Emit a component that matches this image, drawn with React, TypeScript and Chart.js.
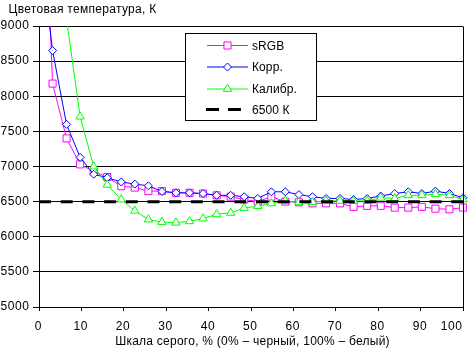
import React, { useEffect, useRef } from 'react';
import { Chart, registerables } from 'chart.js';

Chart.register(...registerables);

// ---- data ----
const grayPercent = [0, 3.2, 6.5, 9.7, 12.9, 16.1, 19.4, 22.6, 25.8, 29.0, 32.3, 35.5, 38.7, 41.9, 45.2, 48.4, 51.6, 54.8, 58.1, 61.3, 64.5, 67.7, 71.0, 74.2, 77.4, 80.6, 83.9, 87.1, 90.3, 93.5, 96.8, 100];
const srgbK = [13000, 8180, 7400, 7030, 6930, 6850, 6720, 6700, 6650, 6650, 6625, 6625, 6615, 6590, 6570, 6530, 6500, 6570, 6500, 6490, 6475, 6475, 6475, 6425, 6440, 6440, 6415, 6415, 6425, 6400, 6390, 6415];
const corrK = [10250, 8650, 7600, 7130, 6890, 6840, 6780, 6750, 6725, 6645, 6625, 6625, 6615, 6590, 6590, 6570, 6545, 6640, 6640, 6600, 6570, 6545, 6545, 6530, 6545, 6580, 6615, 6640, 6615, 6650, 6615, 6555];
const calibK = [16000, 12000, 9100, 7710, 7000, 6740, 6530, 6370, 6245, 6210, 6200, 6220, 6260, 6320, 6340, 6410, 6435, 6475, 6510, 6490, 6495, 6510, 6510, 6510, 6510, 6555, 6545, 6590, 6590, 6605, 6590, 6530];
const refX = [0, 100];
const refK = [6500, 6500];
const seriesLabels = ['sRGB', 'Корр.', 'Калибр.', '6500 К'];
const xTicks = [0, 10, 20, 30, 40, 50, 60, 70, 80, 90, 100];
const yTicks = [5000, 5500, 6000, 6500, 7000, 7500, 8000, 8500, 9000];
const yMin = 5000;
const yMax = 9000;
const yStep = 500;
const chartTitle = 'Цветовая температура, К';
const xTitle = 'Шкала серого, % (0% – черный, 100% – белый)';

const FONT = '"Liberation Sans", Arial, sans-serif';

const toXY = (xs: number[], ys: number[]) => xs.map((x, i) => ({ x, y: ys[i] }));

function drawMarker(ctx: CanvasRenderingContext2D, style: string, x: number, y: number, r: number) {
  ctx.beginPath();
  if (style === 'rect') {
    const s = Math.SQRT1_2 * r;
    ctx.rect(x - s, y - s, 2 * s, 2 * s);
  } else if (style === 'rectRot') {
    ctx.moveTo(x - r, y);
    ctx.lineTo(x, y - r);
    ctx.lineTo(x + r, y);
    ctx.lineTo(x, y + r);
    ctx.closePath();
  } else if (style === 'triangle') {
    let rad = 0;
    ctx.moveTo(x + Math.sin(rad) * r, y - Math.cos(rad) * r);
    rad += (2 * Math.PI) / 3;
    ctx.lineTo(x + Math.sin(rad) * r, y - Math.cos(rad) * r);
    rad += (2 * Math.PI) / 3;
    ctx.lineTo(x + Math.sin(rad) * r, y - Math.cos(rad) * r);
    ctx.closePath();
  }
  ctx.fill();
  ctx.stroke();
}

function setSpacing(ctx: any, px: number) {
  if ('letterSpacing' in ctx) ctx.letterSpacing = `${px}px`;
}

const decorPlugin = {
  id: 'decor',
  afterDraw(chart: any) {
    const { ctx, chartArea } = chart;
    const xs = chart.scales.x;
    const ys = chart.scales.y;
    ctx.save();
    // right border
    const rx = Math.round(xs.getPixelForValue(100) - 0.5) + 0.5;
    ctx.strokeStyle = '#000';
    ctx.lineWidth = 1;
    ctx.beginPath();
    ctx.moveTo(rx, Math.round(chartArea.top - 0.5) + 0.5);
    ctx.lineTo(rx, Math.round(chartArea.bottom - 0.5) + 0.5);
    ctx.stroke();

    ctx.font = `12px ${FONT}`;
    ctx.fillStyle = '#000';

    // y tick labels
    setSpacing(ctx, 0.6);
    ctx.textAlign = 'right';
    ctx.textBaseline = 'middle';
    yTicks.forEach((v) => {
      ctx.fillText(String(v), chartArea.left - 9.4, ys.getPixelForValue(v));
    });

    // x tick labels
    ctx.textBaseline = 'alphabetic';
    xTicks.forEach((v, i) => {
      const px = xs.getPixelForValue(v);
      if (i === xTicks.length - 1) {
        ctx.textAlign = 'right';
        ctx.fillText(String(v), chartArea.right - 0.4, chartArea.bottom + 22.5);
      } else {
        ctx.textAlign = 'center';
        ctx.fillText(String(v), px - 0.7, chartArea.bottom + 22.5);
      }
    });

    // x axis title
    setSpacing(ctx, 0.25);
    ctx.textAlign = 'center';
    ctx.fillText(xTitle, (chartArea.left + chartArea.right) / 2 + 1.5, chartArea.bottom + 37.5);

    // chart title
    setSpacing(ctx, 0.3);
    ctx.textAlign = 'left';
    ctx.fillText(chartTitle, 8.5, 12.5);

    // legend
    setSpacing(ctx, 0.1);
    const bx = 185.5, by = 33.5, bw = 131, bh = 87;
    ctx.fillStyle = '#fff';
    ctx.fillRect(bx, by, bw, bh);
    ctx.strokeStyle = '#000';
    ctx.lineWidth = 1;
    ctx.strokeRect(bx, by, bw, bh);
    const rowsY = [45, 66.5, 88.5, 109];
    chart.data.datasets.forEach((ds: any, i: number) => {
      const y = rowsY[i];
      ctx.save();
      ctx.strokeStyle = ds.borderColor;
      ctx.lineWidth = ds.borderWidth;
      if (ds.borderDash) ctx.setLineDash(ds.borderDash);
      ctx.beginPath();
      if (ds.borderDash) {
        ctx.setLineDash([13, 9]);
        ctx.moveTo(206, y + 0.5);
        ctx.lineTo(242, y + 0.5);
      } else {
        ctx.moveTo(207, y + 0.5);
        ctx.lineTo(248, y + 0.5);
      }
      ctx.stroke();
      ctx.setLineDash([]);
      if (ds.pointRadius > 0) {
        ctx.lineWidth = 1;
        ctx.strokeStyle = ds.pointBorderColor;
        ctx.fillStyle = '#fff';
        drawMarker(ctx, ds.pointStyle, 227.5, y + 0.5, ds.pointRadius);
      }
      ctx.restore();
      ctx.fillStyle = '#000';
      ctx.textAlign = 'left';
      ctx.textBaseline = 'alphabetic';
      ctx.font = `12px ${FONT}`;
      ctx.fillText(ds.label, 252, y + 4.5);
    });
    ctx.restore();
  },
};

export default function App() {
  const ref = useRef<HTMLCanvasElement>(null);
  useEffect(() => {
    if (!ref.current) return;
    const clip = { left: 0, top: 0, right: 8, bottom: 0 };
    const chart = new Chart(ref.current, {
      type: 'line',
      data: {
        datasets: [
          {
            label: seriesLabels[0],
            data: toXY(grayPercent, srgbK),
            borderColor: '#ff00ff',
            pointBorderColor: '#ff00ff',
            pointBackgroundColor: '#ffffff',
            borderWidth: 1,
            pointStyle: 'rect',
            pointRadius: 5,
            pointBorderWidth: 1,
            tension: 0,
            order: 3,
            clip,
          },
          {
            label: seriesLabels[1],
            data: toXY(grayPercent, corrK),
            borderColor: '#0000ff',
            pointBorderColor: '#0000ff',
            pointBackgroundColor: '#ffffff',
            borderWidth: 1,
            pointStyle: 'rectRot',
            pointRadius: 4,
            pointBorderWidth: 1,
            tension: 0,
            order: 2,
            clip,
          },
          {
            label: seriesLabels[2],
            data: toXY(grayPercent, calibK),
            borderColor: '#00ff00',
            pointBorderColor: '#00ff00',
            pointBackgroundColor: '#ffffff',
            borderWidth: 1,
            pointStyle: 'triangle',
            pointRadius: 4.8,
            pointBorderWidth: 1,
            tension: 0,
            order: 1,
            clip,
          },
          {
            label: seriesLabels[3],
            data: toXY(refX, refK),
            borderColor: '#000000',
            borderWidth: 3,
            borderDash: [12, 9.7],
            borderCapStyle: 'butt',
            pointRadius: 0,
            tension: 0,
            order: 0,
            clip,
          },
        ] as any,
      },
      options: {
        animation: false,
        responsive: false,
        devicePixelRatio: 1,
        layout: { padding: { top: 26, right: 10, bottom: 0, left: 0 } },
        plugins: {
          legend: { display: false },
          title: { display: false },
          tooltip: { enabled: false },
        },
        scales: {
          x: {
            type: 'linear',
            min: 0,
            max: 100,
            ticks: { display: false, stepSize: 10 },
            grid: { drawOnChartArea: false, drawTicks: true, tickLength: 4, color: '#000' },
            border: { display: true, color: '#000', width: 1 },
            afterFit: (s: any) => {
              s.height = 42;
            },
          },
          y: {
            type: 'linear',
            min: yMin,
            max: yMax,
            ticks: { display: false, stepSize: yStep },
            grid: { color: '#000', lineWidth: 1, tickLength: 6, drawTicks: true },
            border: { display: true, color: '#000', width: 1 },
            afterFit: (s: any) => {
              s.width = 39;
            },
          },
        },
      } as any,
      plugins: [decorPlugin],
    });
    return () => chart.destroy();
  }, []);
  return (
    <div style={{ position: 'absolute', left: 0, top: 0, width: 473, height: 349, background: '#fff' }}>
      <canvas ref={ref} width={473} height={349} style={{ display: 'block' }} />
    </div>
  );
}
